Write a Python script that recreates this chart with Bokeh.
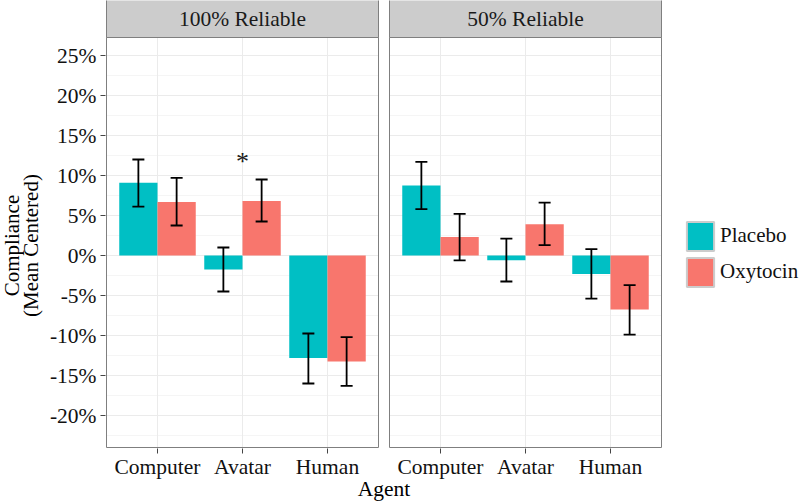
import numpy as np
from bokeh.plotting import figure
from bokeh.models import (ColumnDataSource, Range1d, FixedTicker, PrintfTickFormatter,
                          CustomJSTickFormatter, Whisker, TeeHead, Title, Legend, LegendItem)
from bokeh.core.properties import value
from bokeh.embed import file_html
from bokeh.resources import INLINE

# ---------------- data (percent, mean centered) ----------------
agents = ["Computer", "Avatar", "Human"]
conditions = ["100% Reliable", "50% Reliable"]
treatments = ["Placebo", "Oxytocin"]

placebo_100 = [9.1, -1.75, -12.8]
placebo_100_lo = [6.1, -4.5, -16.0]
placebo_100_hi = [12.0, 1.0, -9.75]
oxytocin_100 = [6.7, 6.8, -13.25]
oxytocin_100_lo = [3.75, 4.25, -16.3]
oxytocin_100_hi = [9.7, 9.5, -10.2]

placebo_50 = [8.75, -0.6, -2.3]
placebo_50_lo = [5.8, -3.25, -5.4]
placebo_50_hi = [11.7, 2.1, 0.8]
oxytocin_50 = [2.3, 3.9, -6.75]
oxytocin_50_lo = [-0.6, 1.3, -9.9]
oxytocin_50_hi = [5.2, 6.6, -3.7]

sig_100 = ["", "*", ""]
sig_50 = ["", "", ""]

y_ticks = [-20, -15, -10, -5, 0, 5, 10, 15, 20, 25]

# ---------------- styling / layout ----------------
FONT = "Liberation Serif"
TEAL = "#00BFC4"
SALMON = "#F8766D"
PX_PER_UNIT = 85.0
GAP = 11.0 / PX_PER_UNIT
EXPAND = 0.6
DODGE = 0.45
PANEL_LO, PANEL_HI, STRIP_HI = -24.0, 27.25, 31.875
Y_LO = -24.125
PAD = 1.0 / PX_PER_UNIT
SIG_OFFSET = 2.25

n = len(agents)
panel_width = (n - 1) + 2 * EXPAND
offsets = [i * (panel_width + GAP) for i in range(len(conditions))]
panel_left = [o + 1 - EXPAND for o in offsets]
panel_right = [l + panel_width for l in panel_left]
centers = [[o + 1 + k for k in range(n)] for o in offsets]

W, H = 800, 502
BL, BB = 105, 54
frame_w = W - BL
frame_h = H - BB
x0 = panel_left[0] - PAD

p = figure(width=W, height=H, output_backend="svg", toolbar_location=None,
           x_range=Range1d(x0, x0 + frame_w / PX_PER_UNIT), y_range=Range1d(Y_LO, STRIP_HI),
           min_border_left=BL, min_border_right=0, min_border_top=0, min_border_bottom=BB,
           outline_line_color=None, background_fill_color="white", border_fill_color="white")
p.xgrid.visible = False
p.ygrid.visible = False

# panel backgrounds
p.quad(left=panel_left, right=panel_right, bottom=PANEL_LO, top=PANEL_HI,
       fill_color="white", line_color=None)

# gridlines (per panel)
minor = [y_ticks[0] - 2.5] + [(a + b) / 2 for a, b in zip(y_ticks[:-1], y_ticks[1:])]
for pi in range(len(conditions)):
    p.segment(x0=[panel_left[pi]] * len(minor), x1=[panel_right[pi]] * len(minor),
              y0=minor, y1=minor, line_color="#F5F5F5", line_width=1)
    p.segment(x0=[panel_left[pi]] * len(y_ticks), x1=[panel_right[pi]] * len(y_ticks),
              y0=y_ticks, y1=y_ticks, line_color="#EBEBEB", line_width=1)
    p.segment(x0=centers[pi], x1=centers[pi], y0=[PANEL_LO] * n, y1=[PANEL_HI] * n,
              line_color="#EBEBEB", line_width=1)

series = [
    (0, 0, placebo_100, placebo_100_lo, placebo_100_hi, TEAL),
    (0, 1, oxytocin_100, oxytocin_100_lo, oxytocin_100_hi, SALMON),
    (1, 0, placebo_50, placebo_50_lo, placebo_50_hi, TEAL),
    (1, 1, oxytocin_50, oxytocin_50_lo, oxytocin_50_hi, SALMON),
]
legend_srcs = {}
for pi, ti, vals, lo, hi, col in series:
    xs = [c + (ti - 0.5) * DODGE for c in centers[pi]]
    src = ColumnDataSource(dict(x=xs, top=vals, lo=lo, hi=hi))
    legend_srcs.setdefault(ti, src)
    p.vbar(x="x", top="top", bottom=0, width=DODGE, source=src,
           fill_color=col, line_color=None)
    w = Whisker(source=src, base="x", upper="hi", lower="lo", dimension="height",
                line_color="black", line_width=1.8, level="overlay",
                upper_head=TeeHead(size=12, line_color="black", line_width=1.8),
                lower_head=TeeHead(size=12, line_color="black", line_width=1.8))
    p.add_layout(w)

# significance markers
for pi, sig, his in [(0, sig_100, [max(a, b) for a, b in zip(placebo_100_hi, oxytocin_100_hi)]),
                     (1, sig_50, [max(a, b) for a, b in zip(placebo_50_hi, oxytocin_50_hi)])]:
    p.text(x=centers[pi], y=[h + SIG_OFFSET for h in his], text=sig,
           text_font=value(FONT), text_font_size="26px", text_align="center",
           text_baseline="alphabetic", text_color="#1a1a1a")

# panel borders
p.quad(left=panel_left, right=panel_right, bottom=PANEL_LO, top=PANEL_HI,
       fill_color=None, line_color="#7F7F7F", line_width=1)

# strips
p.quad(left=panel_left, right=panel_right, bottom=PANEL_HI, top=STRIP_HI + 1,
       fill_color="#CCCCCC", line_color="#7F7F7F", line_width=1)
p.text(x=[o + 2 for o in offsets], y=[(PANEL_HI + STRIP_HI) / 2] * len(conditions),
       text=conditions, text_font=value(FONT), text_font_size="21.5px",
       text_align="center", text_baseline="middle", text_color="#1a1a1a")

# axes
ya = p.yaxis[0]
ya.ticker = FixedTicker(ticks=y_ticks, minor_ticks=[])
ya.formatter = PrintfTickFormatter(format="%d%%")
xa = p.xaxis[0]
xa.ticker = FixedTicker(ticks=[c for cs in centers for c in cs], minor_ticks=[])
xa.formatter = CustomJSTickFormatter(args=dict(names=agents),
                                     code="return names[index % names.length];")
for ax in (xa, ya):
    ax.axis_line_color = None
    ax.major_tick_out = 5
    ax.major_tick_in = 0
    ax.minor_tick_out = 0
    ax.minor_tick_in = 0
    ax.major_tick_line_color = "#444444"
    ax.major_tick_line_width = 1
    ax.major_label_text_font = FONT
    ax.major_label_text_font_size = "21.5px"
    ax.major_label_text_color = "#111111"
ya.major_label_standoff = 4
xa.major_label_standoff = 1

# x axis title (below, centred under both panels)
AGENT_FS = 21.5
agent_w = 2.444 * AGENT_FS
mid = (panel_left[0] + panel_right[-1]) / 2
p.add_layout(Title(text="Agent", align="left", vertical_align="top",
                   offset=(mid - x0) * PX_PER_UNIT - agent_w / 2, standoff=-10,
                   text_font=FONT, text_font_size=f"{AGENT_FS}px",
                   text_font_style="normal", text_color="black"), "below")

# y axis title: two lines, placed as left-side titles
TITLE_FS = 21
for txt, em, so in [("(Mean Centered)", 6.803, 7), ("Compliance", 4.833, -21)]:
    text_len = em * TITLE_FS
    center_from_bottom = frame_h - 245
    t = Title(text=txt, align="left", offset=center_from_bottom - text_len / 2,
              standoff=so, text_font=FONT, text_font_size=f"{TITLE_FS}px",
              text_font_style="normal", text_color="black")
    p.add_layout(t, "left")

# legend (inside the frame, right of the panels)
r_pl = p.vbar(x="x", top="top", width=DODGE, source=legend_srcs[0], fill_color=TEAL,
              line_color="#CCCCCC", line_width=2, visible=False)
r_ox = p.vbar(x="x", top="top", width=DODGE, source=legend_srcs[1], fill_color=SALMON,
              line_color="#CCCCCC", line_width=2, visible=False)
legend = Legend(items=[LegendItem(label=treatments[0], renderers=[r_pl]),
                       LegendItem(label=treatments[1], renderers=[r_ox])],
                location=(683 - BL, frame_h - 289.5),
                glyph_width=34, glyph_height=36, spacing=-4, padding=0, margin=0,
                label_standoff=3, label_text_font=FONT, label_text_font_size="21px",
                label_text_color="#111111", border_line_color=None,
                background_fill_alpha=0)
p.add_layout(legend)

open("out.html", "w").write(file_html(p, INLINE))
